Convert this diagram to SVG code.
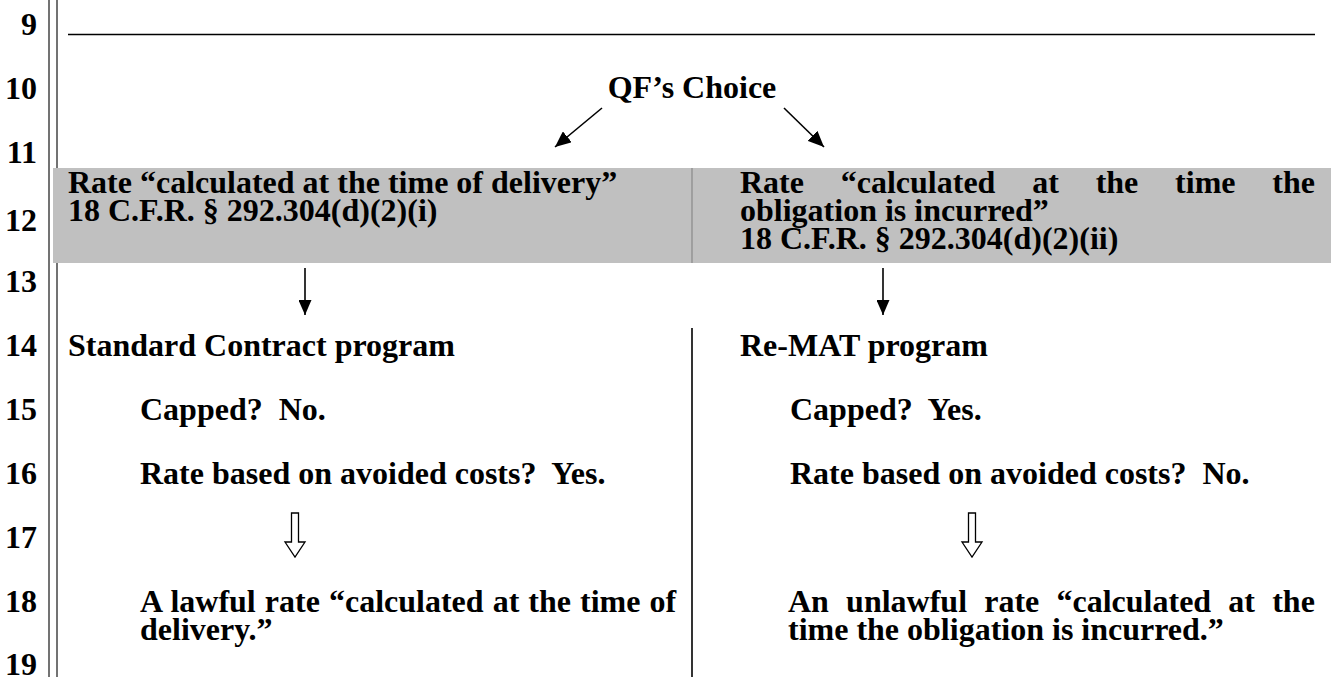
<svg xmlns="http://www.w3.org/2000/svg" width="1335" height="677" viewBox="0 0 1335 677">
<style>
text{font-family:"Liberation Serif","Times New Roman",serif;font-weight:bold;font-size:32px;fill:#000}
.num{text-anchor:end}
.rule{stroke:#444;stroke-width:1.5}
.conn{stroke:#000;stroke-width:1.6;fill:none}
.hollow{fill:#fff;stroke:#000;stroke-width:1.3;stroke-linejoin:miter}
</style>
<defs>
<marker id="ahs" markerWidth="16" markerHeight="14" refX="16" refY="7" orient="auto" markerUnits="userSpaceOnUse" viewBox="0 0 16 14">
<path d="M0,0 L16,7 L0,14 Z" fill="#000"/>
</marker>
<marker id="ahd" markerWidth="15" markerHeight="13" refX="15" refY="6.5" orient="auto" markerUnits="userSpaceOnUse" viewBox="0 0 15 13">
<path d="M0,0 L15,6.5 L0,13 Z" fill="#000"/>
</marker>
</defs>
<g id="margin">
<line class="rule" x1="49" y1="0" x2="49" y2="677"/>
<line class="rule" x1="57" y1="0" x2="57" y2="677"/>
<text class="num" x="37" y="35">9</text>
<text class="num" x="37" y="99">10</text>
<text class="num" x="37" y="163">11</text>
<text class="num" x="37" y="231">12</text>
<text class="num" x="37" y="292">13</text>
<text class="num" x="37" y="356">14</text>
<text class="num" x="37" y="420">15</text>
<text class="num" x="37" y="484">16</text>
<text class="num" x="37" y="548">17</text>
<text class="num" x="37" y="612">18</text>
<text class="num" x="37" y="675">19</text>
</g>
<line id="toprule" x1="68" y1="34.5" x2="1315" y2="34.5" stroke="#000" stroke-width="1.5"/>
<g id="band">
<rect x="53" y="168" width="1278" height="95" fill="#c0c0c0"/>
<line x1="692" y1="168" x2="692" y2="263" stroke="#888" stroke-width="1.2"/>
</g>
<g id="choice">
<text x="692" y="98" text-anchor="middle">QF’s Choice</text>
</g>
<g id="delivery">
<text x="68" y="193">Rate “calculated at the time of delivery”</text>
<text x="68" y="221">18 C.F.R. § 292.304(d)(2)(i)</text>
</g>
<g id="incurred">
<text x="740" y="193" word-spacing="28.8">Rate “calculated at the time the</text>
<text x="740" y="221">obligation is incurred”</text>
<text x="740" y="249">18 C.F.R. § 292.304(d)(2)(ii)</text>
</g>
<g id="standard">
<text x="68" y="356">Standard Contract program</text>
<text x="140" y="420" xml:space="preserve">Capped?  No.</text>
<text x="140" y="484" xml:space="preserve">Rate based on avoided costs?  Yes.</text>
</g>
<g id="remat">
<text x="740" y="356">Re-MAT program</text>
<text x="790" y="420" xml:space="preserve">Capped?  Yes.</text>
<text x="790" y="484" xml:space="preserve">Rate based on avoided costs?  No.</text>
</g>
<g id="lawful">
<text x="140" y="612" word-spacing="1.06">A lawful rate “calculated at the time of</text>
<text x="140" y="640">delivery.”</text>
</g>
<g id="unlawful">
<text x="788" y="612" word-spacing="9.2">An unlawful rate “calculated at the</text>
<text x="788" y="640">time the obligation is incurred.”</text>
</g>
<g id="connectors">
<line class="conn" x1="602" y1="108" x2="555" y2="147" marker-end="url(#ahs)"/>
<line class="conn" x1="784" y1="108" x2="824" y2="147" marker-end="url(#ahs)"/>
<line class="conn" x1="305" y1="268" x2="305" y2="315" marker-end="url(#ahd)"/>
<line class="conn" x1="883" y1="268" x2="883" y2="315" marker-end="url(#ahd)"/>
<line x1="692" y1="328" x2="692" y2="677" stroke="#000" stroke-width="1.6"/>
<polygon class="hollow" points="291.5,513 298.5,513 298.5,542 305,542 295,557 285,542 291.5,542"/>
<polygon class="hollow" points="968.5,513 975.5,513 975.5,542 982,542 972,557 962,542 968.5,542"/>
</g>
</svg>
